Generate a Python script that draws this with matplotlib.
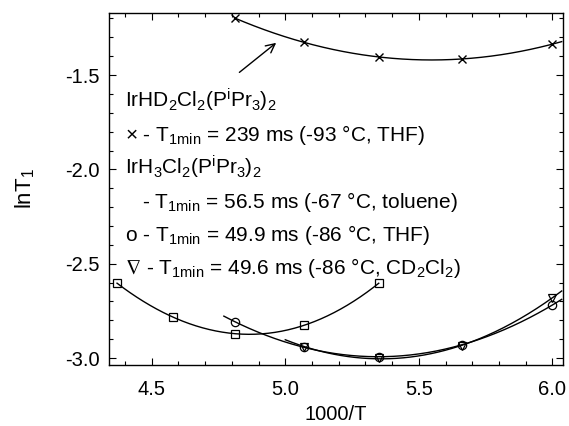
import numpy as np
import matplotlib
matplotlib.use('Agg')
from matplotlib import pyplot as plt
from matplotlib.ticker import MultipleLocator, FormatStrFormatter

plt.rcParams['font.family'] = ['Liberation Sans', 'DejaVu Sans']
plt.rcParams['mathtext.fontset'] = 'custom'
plt.rcParams['mathtext.rm'] = 'Liberation Sans'
plt.rcParams['mathtext.it'] = 'Liberation Sans:italic'

# IrHD2Cl2(PiPr3)2, THF  (crosses)
x_hd = [4.81, 5.07, 5.35, 5.66, 6.00]
y_hd = [-1.198, -1.325, -1.405, -1.415, -1.336]
# IrH3Cl2(PiPr3)2, toluene (squares)
x_tol = [4.37, 4.58, 4.81, 5.07, 5.35]
y_tol = [-2.604, -2.781, -2.874, -2.825, -2.604]
# IrH3Cl2(PiPr3)2, THF (circles)
x_thf = [4.81, 5.07, 5.35, 5.66, 6.00]
y_thf = [-2.807, -2.943, -2.993, -2.931, -2.719]
# IrH3Cl2(PiPr3)2, CD2Cl2 (triangles)
x_cd = [5.07, 5.35, 5.66, 6.00]
y_cd = [-2.940, -3.001, -2.936, -2.680]

fig = plt.figure(figsize=(5.69, 4.26), dpi=100)
ax = fig.add_axes([0.1916, 0.1432, 0.7979, 0.8263])

def fit_line(xs, ys, x0, x1, deg=2):
    p = np.polyfit(xs, ys, deg)
    xx = np.linspace(x0, x1, 200)
    ax.plot(xx, np.polyval(p, xx), color='black', lw=1.0)

fit_line(x_hd, y_hd, 4.81, 6.035)
fit_line(x_tol, y_tol, 4.37, 5.35, deg=3)
fit_line(x_thf, y_thf, 4.77, 6.035)
fit_line(x_cd, y_cd, 5.0, 6.035)

ax.plot(x_hd, y_hd, 'x', color='black', ms=6, mew=1.0)
ax.plot(x_tol, y_tol, 's', mfc='none', mec='black', ms=6, mew=0.9)
ax.plot(x_thf, y_thf, 'o', mfc='none', mec='black', ms=6, mew=0.9)
ax.plot(x_cd, y_cd, 'v', mfc='none', mec='black', ms=6, mew=0.9)

ax.annotate('', xy=(4.974, -1.32), xytext=(4.82, -1.495),
            arrowprops=dict(arrowstyle='->', color='black', lw=1.0,
                            mutation_scale=16))

fs = 15
lines = [
    (0.035, 0.731, r'IrHD$_2$Cl$_2$(P$^{\mathrm{i}}$Pr$_3$)$_2$'),
    (0.035, 0.636, '\u00d7 - T$_{\\mathrm{1min}}$ = 239 ms (-93 \u00b0C, THF)'),
    (0.035, 0.542, r'IrH$_3$Cl$_2$(P$^{\mathrm{i}}$Pr$_3$)$_2$'),
    (0.072, 0.447, '- T$_{\\mathrm{1min}}$ = 56.5 ms (-67 \u00b0C, toluene)'),
    (0.035, 0.352, 'o - T$_{\\mathrm{1min}}$ = 49.9 ms (-86 \u00b0C, THF)'),
]
for tx, ty, s in lines:
    ax.text(tx, ty, s, transform=ax.transAxes, fontsize=fs, va='baseline', ha='left')

# nabla drawn on its own, Liberation Sans has no glyph for it
ax.text(0.035, 0.258, r'$\nabla$', transform=ax.transAxes, fontsize=fs,
        va='baseline', ha='left', math_fontfamily='stixsans')
ax.annotate('- T$_{\\mathrm{1min}}$ = 49.6 ms (-86 \u00b0C, CD$_2$Cl$_2$)',
            xy=(0.035, 0.258), xycoords='axes fraction',
            xytext=(15, 0), textcoords='offset points',
            fontsize=fs, va='baseline', ha='left')

ax.set_xlim(4.34, 6.04)
ax.set_ylim(-3.037, -1.171)
ax.xaxis.set_major_locator(MultipleLocator(0.5))
ax.xaxis.set_minor_locator(MultipleLocator(0.1))
ax.yaxis.set_major_locator(MultipleLocator(0.5))
ax.yaxis.set_minor_locator(MultipleLocator(0.1))
ax.xaxis.set_major_formatter(FormatStrFormatter('%.1f'))
ax.yaxis.set_major_formatter(FormatStrFormatter('%.1f'))
ax.tick_params(which='both', direction='in', top=True, right=True, labelsize=14.5, width=0.8)
ax.tick_params(which='major', length=5)
ax.tick_params(which='minor', length=3)
ax.tick_params(axis='x', pad=11)
ax.tick_params(axis='y', pad=7)
for sp in ax.spines.values():
    sp.set_linewidth(1.0)

ax.set_xlabel('1000/T', fontsize=14.5, labelpad=4)
ax.set_ylabel('lnT$_1$', fontsize=16, labelpad=20)

plt.savefig('out.png', dpi=100)
